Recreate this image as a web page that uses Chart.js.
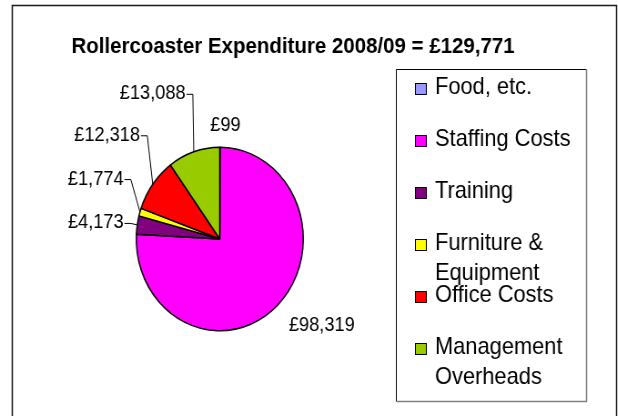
<!DOCTYPE html>
<html>
<head>
<meta charset="utf-8">
<title>Rollercoaster Expenditure 2008/09</title>
<script src="https://cdn.jsdelivr.net/npm/chart.js@4.4.1/dist/chart.umd.min.js"></script>
<style>
    html, body { margin: 0; padding: 0; background: #fff; overflow: hidden; }
    #wrap { width: 618px; height: 416px; overflow: hidden; }
    /* the original picture is squeezed sideways a little, so the canvas is too */
    #expenditure-chart { transform: scaleX(0.91); transform-origin: 0 0; }
</style>
</head>
<body>
<div id="wrap"><canvas id="expenditure-chart" width="679" height="416"></canvas></div>
<script>

const categories  = ['Food, etc.', 'Staffing Costs', 'Training', 'Furniture & Equipment', 'Office Costs', 'Management Overheads'];
const expenditure = [99, 98319, 4173, 1774, 12318, 13088];
const sliceColours = ['#9999FF', '#FF00FF', '#800080', '#FFFF00', '#FF0000', '#99CC00'];

// where each value label sits, relative to the middle of its slice edge: [dx, dy, align]
const labelPlacement = [
    [6, -22, 'center'],
    [13, 20, 'left'],
    [-15, -2, 'right'],
    [-18, -33, 'right'],
    [-14, -49, 'right'],
    [-9, -58, 'right']
];

const FONT = '"Liberation Sans", Arial, sans-serif';

const chart = ( function () {

    const total = expenditure.reduce( ( a, b ) => a + b, 0 );
    const title = 'Rollercoaster Expenditure 2008/09 = £' + total.toLocaleString( 'en-GB' );

    function money( v ) {
        return '£' + v.toLocaleString( 'en-GB' );
    }

    function wrap( ctx, text, maxWidth ) {
        let lines = [];
        let line  = '';
        text.split( ' ' ).forEach( word => {
            let test = line ? line + ' ' + word : word;
            if ( line && ctx.measureText( test ).width > maxWidth ) {
                lines.push( line );
                line = word;
            } else {
                line = test;
            }
        } );
        lines.push( line );
        return lines;
    }

    const decor = {
        id: 'excelDecor',

        beforeDraw( c ) {
            const ctx = c.ctx;
            ctx.save();
            ctx.fillStyle = '#fff';
            ctx.fillRect( 0, 0, c.width, c.height );
            ctx.restore();
        },

        afterDraw( c ) {
            const ctx = c.ctx;
            ctx.save();

            // outer frame
            ctx.strokeStyle = '#1a1a1a';
            ctx.lineWidth = 1.5;
            ctx.strokeRect( 13.5, 5.5, 664, 430 );

            // title
            ctx.fillStyle = '#000';
            ctx.font = 'bold 22.5px ' + FONT;
            ctx.textAlign = 'center';
            ctx.textBaseline = 'middle';
            ctx.fillText( title, 322, 47 );

            // legend box
            const lx = 435.5, ly = 69.5, lw = 209, lh = 332;
            ctx.lineWidth = 1;
            ctx.strokeStyle = '#000';
            ctx.beginPath();
            ctx.moveTo( lx, ly + lh );
            ctx.lineTo( lx, ly );
            ctx.lineTo( lx + lw, ly );
            ctx.stroke();
            ctx.strokeStyle = '#808080';
            ctx.lineWidth = 1.5;
            ctx.beginPath();
            ctx.moveTo( lx + lw, ly );
            ctx.lineTo( lx + lw, ly + lh );
            ctx.lineTo( lx, ly + lh );
            ctx.stroke();

            // legend entries
            ctx.font = '24px ' + FONT;
            ctx.textAlign = 'left';
            ctx.textBaseline = 'alphabetic';
            c.data.labels.forEach( ( label, i ) => {
                const base = 94 + i * 52;
                ctx.fillStyle = c.data.datasets[0].backgroundColor[i];
                ctx.fillRect( 456.5, base - 10.5, 12, 11 );
                ctx.strokeStyle = '#000';
                ctx.lineWidth = 1;
                ctx.strokeRect( 456.5, base - 10.5, 12, 11 );
                ctx.fillStyle = '#000';
                wrap( ctx, label, 165 ).forEach( ( line, j ) => {
                    ctx.fillText( line, 478, base + j * 30 );
                } );
            } );

            // value labels with leader lines
            const meta = c.getDatasetMeta( 0 );
            ctx.font = '20px ' + FONT;
            ctx.textBaseline = 'middle';
            meta.data.forEach( ( arc, i ) => {
                const p   = arc.getProps( ['x', 'y', 'startAngle', 'endAngle', 'outerRadius'] );
                const mid = ( p.startAngle + p.endAngle ) / 2;
                const ex  = p.x + p.outerRadius * Math.cos( mid );
                const ey  = p.y + p.outerRadius * Math.sin( mid );
                const [dx, dy, align] = labelPlacement[i];
                const tx = ex + dx, ty = ey + dy;

                ctx.fillStyle = '#000';
                ctx.textAlign = align;
                ctx.fillText( money( expenditure[i] ), tx, ty );

                if ( align === 'right' ) {
                    ctx.strokeStyle = '#000';
                    ctx.lineWidth = 1;
                    ctx.beginPath();
                    ctx.moveTo( tx + 1, ty + 0.5 );
                    ctx.lineTo( tx + 8, ty + 0.5 );
                    ctx.lineTo( ex, ey );
                    ctx.stroke();
                }
            } );

            ctx.restore();
        }
    };

    function buildChart() {
        const ctx = document.getElementById( 'expenditure-chart' ).getContext( '2d' );
        return new Chart( ctx, {
            type: 'pie',
            data: {
                labels: categories,
                datasets: [ {
                    data: expenditure,
                    backgroundColor: sliceColours,
                    borderColor: '#000',
                    borderWidth: 1.5
                } ]
            },
            options: {
                responsive: false,
                animation: false,
                devicePixelRatio: 1,
                layout: { padding: { left: 149, top: 146, right: 345, bottom: 84 } },
                plugins: {
                    legend: { display: false },
                    tooltip: { enabled: false },
                    title: { display: false }
                }
            },
            plugins: [ decor ]
        } );
    }

    return buildChart();
} )();

</script>
</body>
</html>
